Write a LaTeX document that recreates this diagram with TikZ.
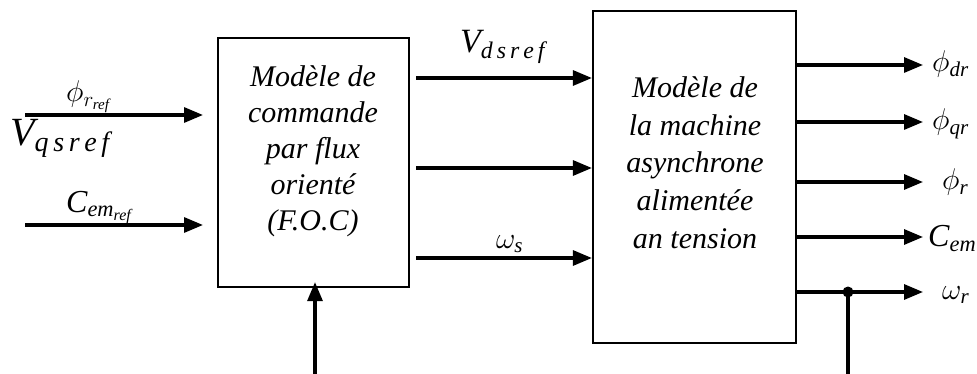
\RequirePackage{fix-cm}
\documentclass[tikz,border=0pt]{standalone}
\usepackage{amsmath}
\usepackage{fontspec}
\setmainfont{Liberation Serif}
\usetikzlibrary{arrows.meta}
\begin{document}
\begin{tikzpicture}[x=1pt,y=-1pt,
  blk/.style={draw, line width=2.2pt, inner sep=0pt},
  arr/.style={line width=3.1pt, -{Triangle[length=19pt,width=15pt]}},
  wire/.style={line width=3.1pt},
  boxtxt/.style={font=\fontsize{30}{35}\selectfont\itshape, anchor=base, inner sep=0pt},
  lbl/.style={font=\fontsize{30}{32}\selectfont, inner sep=0pt}]
\useasboundingbox (0,0) rectangle (977,374);
% blocks
\node[blk, minimum width=191pt, minimum height=249pt] (foc) at (313.5,162.5) {};
\node[blk, minimum width=203pt, minimum height=332pt] (mas) at (694.5,177) {};
% block texts
\foreach \t [count=\i] in {Modèle de,commande,par flux,orienté,(F.O.C)}
  \node[boxtxt] (f\i) at (313,{87+35.8*(\i-1)}) {\t};
\foreach \t [count=\i] in {Modèle de,la machine,asynchrone,alimentée,an tension}
  \node[boxtxt] (m\i) at (695,{98+37.5*(\i-1)}) {\t};
% inputs
\coordinate (i1) at (25,115);
\coordinate (i2) at (25,225);
\coordinate (i1e) at (203,115);
\coordinate (i2e) at (203,225);
\draw[arr] (i1) -- (i1e);
\draw[arr] (i2) -- (i2e);
\coordinate (b1) at (315,374);
\draw[arr] (b1) -- ([yshift=6pt]foc.south -| b1);
% FOC -> machine
\foreach \y/\n in {78/a,168/b,258/c}{
  \coordinate (o\n) at (416,\y);
  \draw[arr] (o\n) -- (mas.west |- o\n);
}
% machine outputs
\foreach \y/\n in {65/1,122/2,182/3,237/4,292/5}{
  \coordinate (s\n) at (mas.east |- 0,\y);
  \coordinate (e\n) at (923,\y);
  \draw[arr] (s\n) -- (e\n);
}
\coordinate (dot) at (848,292);
\coordinate (dotb) at (848,374);
\fill (dot) circle (5.5pt);
\draw[wire] (dot) -- (dotb);
% labels left
\node[lbl, anchor=base west] (lphi) at (66,102) {$\phi_{r_{\textit{ref}}}$};
\node[lbl, anchor=base west, font=\fontsize{40}{42}\selectfont] (lv) at (10,146) {$\textit{V}_{\textit{q\,s\,r\,e\,f}}$};
\node[lbl, anchor=base west, font=\fontsize{32}{34}\selectfont] (lc) at (66,212) {$\textit{C}_{\textit{em}_{\textit{ref}}}$};
% labels middle
\node[lbl, anchor=base west, font=\fontsize{34}{36}\selectfont] (lvd) at (460,53) {$\textit{V}_{\textit{d\,s\,r\,e\,f}}$};
\node[lbl, anchor=base west] (lw) at (496,248) {$\omega_{\textit{s}}$};
% labels right
\node[lbl, anchor=base west] (r1) at (932,72) {$\phi_{\textit{dr}}$};
\node[lbl, anchor=base west] (r2) at (932,130) {$\phi_{\textit{qr}}$};
\node[lbl, anchor=base west] (r3) at (942,190) {$\phi_{\textit{r}}$};
\node[lbl, anchor=base west, font=\fontsize{32}{34}\selectfont] (r4) at (928,247) {$\textit{C}_{\textit{em}}$};
\node[lbl, anchor=base west] (r5) at (942,299) {$\omega_{\textit{r}}$};
\end{tikzpicture}
\end{document}
